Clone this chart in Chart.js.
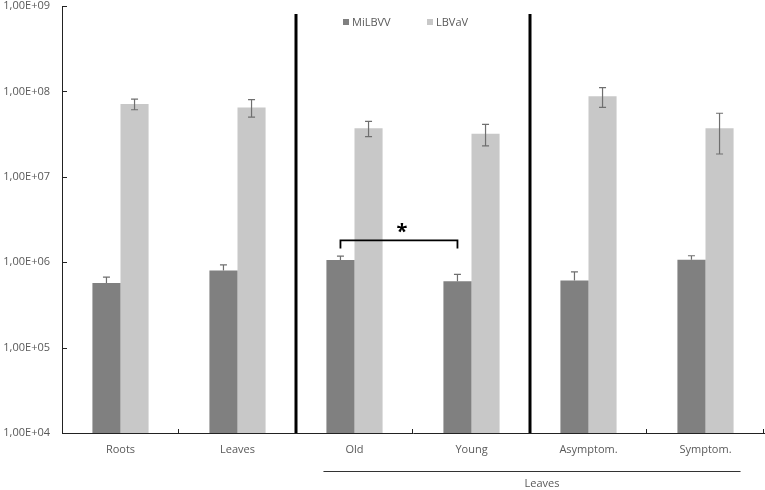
<!DOCTYPE html>
<html>
<head>
<meta charset="utf-8">
<script src="https://cdn.jsdelivr.net/npm/chart.js@4/dist/chart.umd.min.js"></script>
<style>
  body { margin: 0; background: #fff; }
  #box { width: 765px; height: 490px; }
</style>
</head>
<body>
<div id="box"><canvas id="grafico"></canvas></div>
<script>
// data
const categories = ["Roots", "Leaves", "Old", "Young", "Asymptom.", "Symptom."];
const milbvv = [5.7e5, 8.0e5, 1.06e6, 6.0e5, 6.1e5, 1.07e6];
const milbvvErr = [1.0e5, 1.3e5, 1.2e5, 1.2e5, 1.6e5, 1.2e5];
const lbvav = [7.1e7, 6.5e7, 3.7e7, 3.2e7, 8.8e7, 3.7e7];
const lbvavErr = [1.0e7, 1.5e7, 7.5e6, 9.0e6, 2.3e7, 1.85e7];
const yTicks = [1e4, 1e5, 1e6, 1e7, 1e8, 1e9];
const groupLabel = "Leaves";          // spans Old .. Symptom.
const groupFrom = 2, groupTo = 5;
const separators = [1, 3];            // thick line after these categories
const sigPair = [2, 3];               // Old vs Young, MiLBVV
const sigLevel = 1.8e6;

const FONT = "'Open Sans', 'Noto Sans', sans-serif";
const TXT = "#595959";

function sci(v) {
  const e = Math.round(Math.log10(v));
  const m = v / Math.pow(10, e);
  return m.toFixed(2).replace(".", ",") + "E+" + String(e).padStart(2, "0");
}

// error bars, ticks, separators, bracket, group label, legend
const extras = {
  id: "extras",
  afterDatasetsDraw(chart) {
    const ctx = chart.ctx;
    const ys = chart.scales.y, xs = chart.scales.x;
    const area = chart.chartArea;
    const errs = [milbvvErr, lbvavErr];
    ctx.save();
    ctx.strokeStyle = "#6f6f6f";
    ctx.lineWidth = 1.2;
    chart.data.datasets.forEach((ds, d) => {
      const meta = chart.getDatasetMeta(d);
      meta.data.forEach((bar, i) => {
        const v = ds.data[i], e = errs[d][i];
        const top = ys.getPixelForValue(v + e);
        const bot = d === 0 ? ys.getPixelForValue(v) : ys.getPixelForValue(v - e);
        ctx.beginPath();
        ctx.moveTo(bar.x, top); ctx.lineTo(bar.x, bot);
        ctx.moveTo(bar.x - 3.5, top); ctx.lineTo(bar.x + 3.5, top);
        if (d === 1) { ctx.moveTo(bar.x - 3.5, bot); ctx.lineTo(bar.x + 3.5, bot); }
        ctx.stroke();
      });
    });

    // tick marks (inside)
    ctx.strokeStyle = "#222";
    ctx.lineWidth = 1;
    yTicks.forEach(t => {
      const y = Math.round(ys.getPixelForValue(t)) + 0.5;
      ctx.beginPath(); ctx.moveTo(area.left, y); ctx.lineTo(area.left + 5, y); ctx.stroke();
    });
    const step = xs.getPixelForValue(1) - xs.getPixelForValue(0);
    categories.forEach((c, i) => {
      const x = Math.round(xs.getPixelForValue(i) + step / 2) - 0.5;
      ctx.beginPath(); ctx.moveTo(x, area.bottom); ctx.lineTo(x, area.bottom - 4); ctx.stroke();
    });

    // thick separators
    ctx.strokeStyle = "#000";
    ctx.lineWidth = 3;
    separators.forEach(i => {
      const x = xs.getPixelForValue(i) + step / 2;
      ctx.beginPath(); ctx.moveTo(x, area.top + 8); ctx.lineTo(x, area.bottom); ctx.stroke();
    });

    // significance bracket
    const m0 = chart.getDatasetMeta(0);
    const xa = m0.data[sigPair[0]].x, xb = m0.data[sigPair[1]].x;
    const yb = ys.getPixelForValue(sigLevel);
    ctx.lineWidth = 1.8;
    ctx.beginPath();
    ctx.moveTo(xa, yb + 8); ctx.lineTo(xa, yb); ctx.lineTo(xb, yb); ctx.lineTo(xb, yb + 8);
    ctx.stroke();
    ctx.fillStyle = "#000";
    ctx.font = "bold 20px " + FONT;
    ctx.textAlign = "center";
    ctx.textBaseline = "middle";
    ctx.fillText("*", (xa + xb) / 2 + 3, yb - 8);

    // group line + label under the axis
    const m1 = chart.getDatasetMeta(1);
    const gx0 = m0.data[groupFrom].x - 17, gx1 = m1.data[groupTo].x + 21;
    const gy = area.bottom + 38.5;
    ctx.strokeStyle = "#333";
    ctx.lineWidth = 1;
    ctx.beginPath(); ctx.moveTo(gx0, gy); ctx.lineTo(gx1, gy); ctx.stroke();
    ctx.fillStyle = TXT;
    ctx.font = "11px " + FONT;
    ctx.fillText(groupLabel, (gx0 + gx1) / 2 + 10, area.bottom + 51);

    // legend
    const cx = (area.left + area.right) / 2;
    const lx = [cx - 70, cx + 14];
    ctx.textAlign = "left";
    chart.data.datasets.forEach((ds, d) => {
      ctx.fillStyle = ds.backgroundColor;
      ctx.fillRect(lx[d], area.top + 13, 6, 6);
      ctx.fillStyle = TXT;
      ctx.fillText(ds.label, lx[d] + 9, area.top + 16.5);
    });
    ctx.restore();
  }
};

new Chart(document.getElementById("grafico"), {
  type: "bar",
  data: {
    labels: categories,
    datasets: [
      { label: "MiLBVV", data: milbvv, backgroundColor: "#808080" },
      { label: "LBVaV", data: lbvav, backgroundColor: "#c8c8c8" }
    ]
  },
  options: {
    responsive: true,
    maintainAspectRatio: false,
    animation: false,
    layout: { padding: { top: 6, right: 1, left: 0, bottom: 0 } },
    datasets: { bar: { categoryPercentage: 0.48, barPercentage: 1 } },
    plugins: { legend: { display: false }, tooltip: { enabled: false } },
    scales: {
      x: {
        grid: { display: false, drawTicks: false },
        border: { display: true, color: "#222", width: 1 },
        ticks: { color: TXT, font: { size: 11, family: FONT }, padding: 10 },
        afterFit(s) { s.height = 57; s.paddingLeft = 0; s.paddingRight = 0; }
      },
      y: {
        type: "logarithmic",
        min: 1e4,
        max: 1e9,
        grid: { display: false, drawTicks: false },
        border: { display: true, color: "#222", width: 1 },
        afterBuildTicks(s) { s.ticks = yTicks.map(v => ({ value: v })); },
        ticks: {
          color: TXT,
          font: { size: 11, family: FONT },
          padding: 12,
          callback: v => sci(v)
        },
        afterFit(s) { s.width = 62; s.paddingTop = 0; s.paddingBottom = 0; }
      }
    }
  },
  plugins: [extras]
});
</script>
</body>
</html>
